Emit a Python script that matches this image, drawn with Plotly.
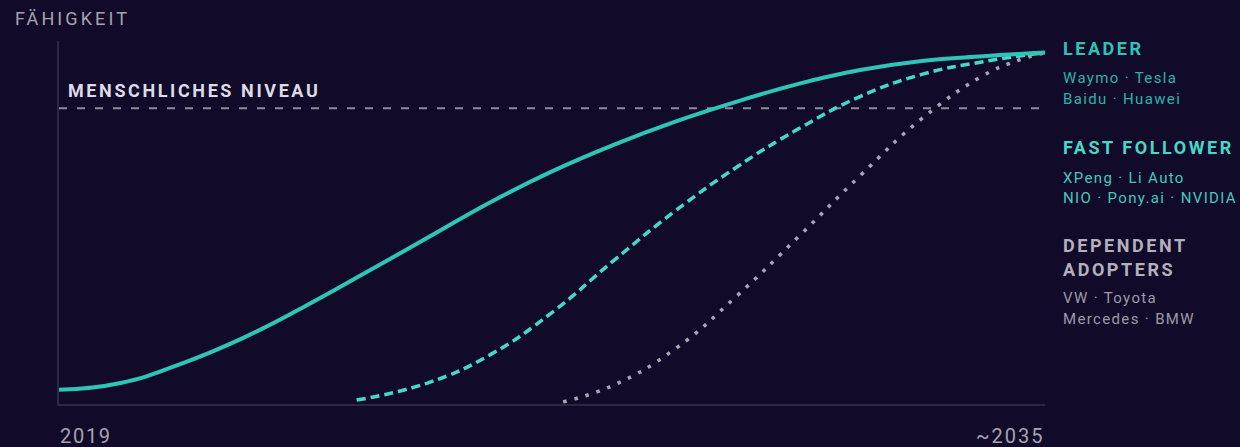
import plotly.graph_objects as go

# ---------------- data ----------------
leader_x = [2019, 2020, 2021, 2022, 2023, 2024, 2025, 2026, 2027,
            2028, 2029, 2030, 2031, 2032, 2033, 2034, 2035]
leader_y = [3.9, 5.8, 11.2, 18.3, 27.0, 36.4, 46.0, 55.6, 64.1,
            71.4, 77.8, 83.3, 88.2, 92.0, 94.5, 95.8, 96.8]

fast_x = [2023.83, 2025, 2026, 2027, 2028, 2029, 2030,
          2031, 2032, 2033, 2034, 2035]
fast_y = [1.1, 5.9, 13.6, 25.2, 39.5, 53.2, 65.3,
          75.8, 84.7, 90.8, 94.3, 96.8]

dep_x = [2027.18, 2028, 2029, 2030, 2031, 2032, 2033, 2034, 2034.5, 2035]
dep_y = [0.6, 5.2, 15.2, 29.8, 46.1, 62.9, 78.6, 90.5, 94.3, 96.8]

human_level = 81.5
x_start, x_end = 2019, 2035
tick_labels = ["2019", "~2035"]
y_title = "FÄHIGKEIT"
human_label = "MENSCHLICHES NIVEAU"

groups = ["LEADER", "FAST FOLLOWER", "DEPENDENT\nADOPTERS"]
members = [
    ["Waymo · Tesla", "Baidu · Huawei"],
    ["XPeng · Li Auto", "NIO · Pony.ai · NVIDIA"],
    ["VW · Toyota", "Mercedes · BMW"],
]

# ---------------- styling ----------------
W, H = 1240, 447
L, R, T, B = 59, 195, 41, 43
PW, PH = W - L - R, H - T - B
BG = "#110b29"
TEAL = "#2ec4b6"
TEAL2 = "#45d8c8"
GREY = "#a9a5b2"
AXIS = "#2c2741"
FONT = "Roboto"
SMOOTH = 1.3


def px(xp):
    return (xp - L) / PW


def py(yp):
    return (H - B - yp) / PH


fig = go.Figure()

fig.add_trace(go.Scatter(x=dep_x, y=dep_y, mode="lines",
                         line=dict(color=GREY, width=3.5, dash="3.5px,8px",
                                   shape="spline", smoothing=SMOOTH),
                         hoverinfo="skip", showlegend=False))
fig.add_trace(go.Scatter(x=fast_x, y=fast_y, mode="lines",
                         line=dict(color=TEAL2, width=3.5, dash="9px,5px",
                                   shape="spline", smoothing=SMOOTH),
                         hoverinfo="skip", showlegend=False))
fig.add_trace(go.Scatter(x=leader_x, y=leader_y, mode="lines",
                         line=dict(color=TEAL, width=4,
                                   shape="spline", smoothing=SMOOTH),
                         hoverinfo="skip", showlegend=False))

fig.add_shape(type="line", xref="x", yref="y", x0=x_start, x1=x_end,
              y0=human_level, y1=human_level, layer="below",
              line=dict(color="#8f8a9d", width=2, dash="8px,10px"))

annotations = []
spacing = []


def ann(text, xp, yp, size, color, bold=False, xanchor="left", ls=0.0):
    t = f"<b>{text}</b>" if bold else text
    annotations.append(dict(
        text=t, x=px(xp), y=py(yp), xref="paper", yref="paper",
        xanchor=xanchor, yanchor="middle", align=xanchor,
        showarrow=False, font=dict(family=FONT, size=size, color=color),
    ))
    spacing.append(ls)


ann(y_title, 13, 18.6, 18, "#a6a3b0", ls=3.1)
ann(human_label, 66, 90.3, 18, "#dddbe6", bold=True, ls=2.6)

# legend blocks
head_y = [[48.9], [147.6], [245.3, 269.3]]
mem_y = [[78.4, 99.0], [178.0, 198.0], [298.0, 319.0]]
head_col = [TEAL, TEAL2, "#b4b0bc"]
mem_col = ["#2db3a6", "#45c9bb", "#9d99a7"]
for gi, g in enumerate(groups):
    for li, line in enumerate(g.split("\n")):
        ann(line, 1061, head_y[gi][li], 18, head_col[gi], bold=True, ls=2.55)
    for mi, m in enumerate(members[gi]):
        ann(m, 1061, mem_y[gi][mi], 15, mem_col[gi], ls=1.35)

ann(tick_labels[0], 58, 436.2, 20, "#a6a3b0", ls=1.7)
ann(tick_labels[1], 1047, 436.2, 20, "#a6a3b0", xanchor="right", ls=2.0)

fig.update_layout(
    width=W, height=H, margin=dict(l=L, r=R, t=T, b=B),
    paper_bgcolor=BG, plot_bgcolor=BG,
    showlegend=False, annotations=annotations,
    xaxis=dict(range=[x_start, x_end], showgrid=False, zeroline=False,
               showticklabels=False, ticks="", showline=True,
               linecolor=AXIS, linewidth=2, fixedrange=True),
    yaxis=dict(range=[0, 100], showgrid=False, zeroline=False,
               showticklabels=False, ticks="", showline=True,
               linecolor=AXIS, linewidth=2, fixedrange=True),
)

ls_js = "[" + ",".join(str(s) for s in spacing) + "]"
post = """
var gd = document.getElementById('{plot_id}');
var LS = %s;
function applyLS() {
  var els = gd.querySelectorAll('.annotation-text');
  for (var i = 0; i < els.length && i < LS.length; i++) {
    els[i].style.letterSpacing = LS[i] + 'px';
  }
}
applyLS();
if (gd.on) { gd.on('plotly_afterplot', applyLS); }
setTimeout(applyLS, 50);
setTimeout(applyLS, 300);
""" % ls_js

fig.write_html("out.html", include_plotlyjs=True, post_script=post,
               config={"displayModeBar": False, "staticPlot": True})
